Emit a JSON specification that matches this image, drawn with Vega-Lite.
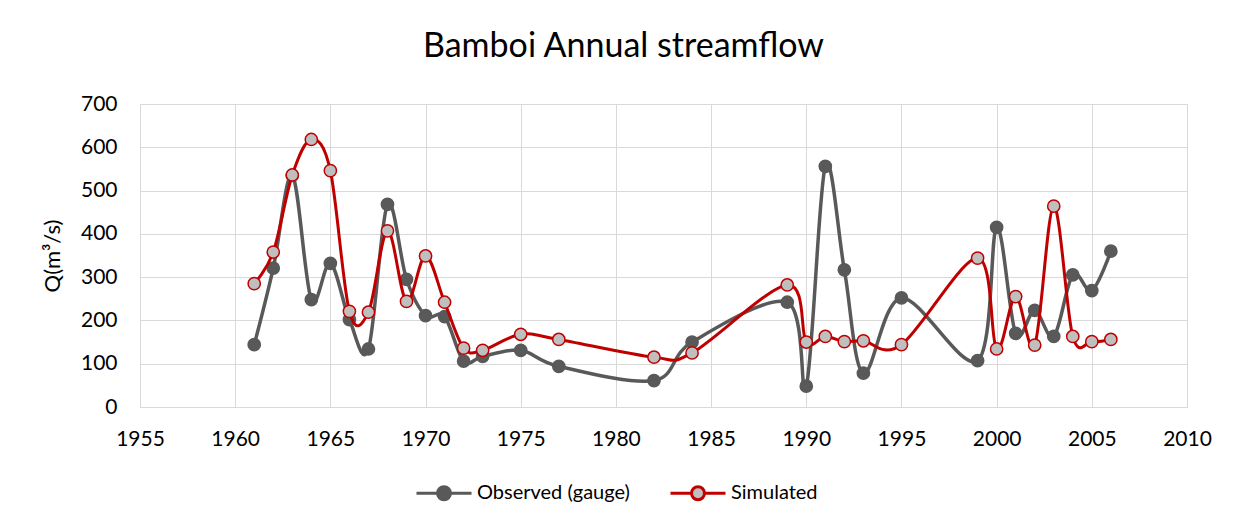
{
  "$schema": "https://vega.github.io/schema/vega-lite/v6.json",
  "autosize": "none",
  "width": 1047,
  "height": 303,
  "padding": {"left": 140, "top": 104, "right": 55, "bottom": 121},
  "background": "white",
  "title": {
    "text": "Bamboi Annual streamflow",
    "font": "Lato",
    "fontSize": 34,
    "fontWeight": "normal",
    "color": "#000000",
    "anchor": "middle",
    "dx": -40,
    "offset": 29
  },
  "config": {
    "view": {"stroke": "#D9D9D9", "strokeWidth": 1},
    "axis": {
      "labelFont": "Lato",
      "labelFontSize": 21,
      "labelColor": "#000000",
      "titleFont": "Lato",
      "titleFontSize": 22,
      "titleFontWeight": "normal",
      "titleColor": "#000000",
      "gridColor": "#D9D9D9",
      "gridWidth": 1,
      "domainColor": "#D9D9D9",
      "ticks": false
    }
  },
  "data": {
    "values": [
      {"year": 1961, "series": "Observed (gauge)", "Q": 144},
      {"year": 1962, "series": "Observed (gauge)", "Q": 321},
      {"year": 1963, "series": "Observed (gauge)", "Q": 535},
      {"year": 1964, "series": "Observed (gauge)", "Q": 248},
      {"year": 1965, "series": "Observed (gauge)", "Q": 332},
      {"year": 1966, "series": "Observed (gauge)", "Q": 202},
      {"year": 1967, "series": "Observed (gauge)", "Q": 134},
      {"year": 1968, "series": "Observed (gauge)", "Q": 468},
      {"year": 1969, "series": "Observed (gauge)", "Q": 295},
      {"year": 1970, "series": "Observed (gauge)", "Q": 211},
      {"year": 1971, "series": "Observed (gauge)", "Q": 209},
      {"year": 1972, "series": "Observed (gauge)", "Q": 106},
      {"year": 1973, "series": "Observed (gauge)", "Q": 117},
      {"year": 1975, "series": "Observed (gauge)", "Q": 131},
      {"year": 1977, "series": "Observed (gauge)", "Q": 94},
      {"year": 1982, "series": "Observed (gauge)", "Q": 61},
      {"year": 1984, "series": "Observed (gauge)", "Q": 150},
      {"year": 1989, "series": "Observed (gauge)", "Q": 242},
      {"year": 1990, "series": "Observed (gauge)", "Q": 48},
      {"year": 1991, "series": "Observed (gauge)", "Q": 556},
      {"year": 1992, "series": "Observed (gauge)", "Q": 317},
      {"year": 1993, "series": "Observed (gauge)", "Q": 78},
      {"year": 1995, "series": "Observed (gauge)", "Q": 252},
      {"year": 1999, "series": "Observed (gauge)", "Q": 107},
      {"year": 2000, "series": "Observed (gauge)", "Q": 415},
      {"year": 2001, "series": "Observed (gauge)", "Q": 170},
      {"year": 2002, "series": "Observed (gauge)", "Q": 223},
      {"year": 2003, "series": "Observed (gauge)", "Q": 163},
      {"year": 2004, "series": "Observed (gauge)", "Q": 305},
      {"year": 2005, "series": "Observed (gauge)", "Q": 269},
      {"year": 2006, "series": "Observed (gauge)", "Q": 360},
      {"year": 1961, "series": "Simulated", "Q": 285},
      {"year": 1962, "series": "Simulated", "Q": 358},
      {"year": 1963, "series": "Simulated", "Q": 536},
      {"year": 1964, "series": "Simulated", "Q": 618},
      {"year": 1965, "series": "Simulated", "Q": 546},
      {"year": 1966, "series": "Simulated", "Q": 221},
      {"year": 1967, "series": "Simulated", "Q": 219},
      {"year": 1968, "series": "Simulated", "Q": 407},
      {"year": 1969, "series": "Simulated", "Q": 244},
      {"year": 1970, "series": "Simulated", "Q": 349},
      {"year": 1971, "series": "Simulated", "Q": 242},
      {"year": 1972, "series": "Simulated", "Q": 136},
      {"year": 1973, "series": "Simulated", "Q": 131},
      {"year": 1975, "series": "Simulated", "Q": 168},
      {"year": 1977, "series": "Simulated", "Q": 156},
      {"year": 1982, "series": "Simulated", "Q": 115},
      {"year": 1984, "series": "Simulated", "Q": 125},
      {"year": 1989, "series": "Simulated", "Q": 282},
      {"year": 1990, "series": "Simulated", "Q": 150},
      {"year": 1991, "series": "Simulated", "Q": 163},
      {"year": 1992, "series": "Simulated", "Q": 151},
      {"year": 1993, "series": "Simulated", "Q": 153},
      {"year": 1995, "series": "Simulated", "Q": 144},
      {"year": 1999, "series": "Simulated", "Q": 344},
      {"year": 2000, "series": "Simulated", "Q": 134},
      {"year": 2001, "series": "Simulated", "Q": 255},
      {"year": 2002, "series": "Simulated", "Q": 143},
      {"year": 2003, "series": "Simulated", "Q": 464},
      {"year": 2004, "series": "Simulated", "Q": 163},
      {"year": 2005, "series": "Simulated", "Q": 151},
      {"year": 2006, "series": "Simulated", "Q": 156}
    ]
  },
  "encoding": {
    "x": {
      "field": "year",
      "type": "quantitative",
      "scale": {"domain": [1955, 2010], "nice": false, "zero": false},
      "axis": {
        "title": null,
        "values": [1955, 1960, 1965, 1970, 1975, 1980, 1985, 1990, 1995, 2000, 2005, 2010],
        "format": "d",
        "labelPadding": 21,
        "labelFlush": false
      }
    },
    "y": {
      "field": "Q",
      "type": "quantitative",
      "scale": {"domain": [0, 700], "nice": false},
      "axis": {
        "title": "Q(m³/s)",
        "values": [0, 100, 200, 300, 400, 500, 600, 700],
        "labelPadding": 23,
        "titlePadding": 16,
        "domain": false
      }
    }
  },
  "layer": [
    {
      "transform": [{"filter": "datum.series === 'Observed (gauge)'"}],
      "mark": {"type": "line", "interpolate": "cardinal", "tension": 0, "strokeWidth": 3.5},
      "encoding": {
        "stroke": {"field": "series", "type": "nominal",
          "scale": {"domain": ["Observed (gauge)", "Simulated"], "range": ["#595959", "#C00000"]},
          "legend": {
            "orient": "none", "legendX": 275, "legendY": 360, "direction": "horizontal",
            "title": null, "padding": 0,
            "symbolType": "M-1,0H-0.236M0.236,0H1M0.236,0A0.236,0.236,0,1,1,-0.236,0A0.236,0.236,0,1,1,0.236,0Z",
            "symbolSize": 3025, "symbolStrokeWidth": 3,
            "labelFont": "Lato", "labelFontSize": 20, "labelColor": "#000000",
            "labelOffset": 4, "columnPadding": 34
          }}
      }
    },
    {
      "transform": [{"filter": "datum.series === 'Observed (gauge)'"}],
      "mark": {"type": "point", "filled": true, "size": 150, "opacity": 1, "strokeWidth": 1.5},
      "encoding": {
        "stroke": {"field": "series", "type": "nominal"},
        "fill": {"field": "series", "type": "nominal",
          "scale": {"domain": ["Observed (gauge)", "Simulated"], "range": ["#595959", "#BFBFBF"]}}
      }
    },
    {
      "transform": [{"filter": "datum.series === 'Simulated'"}],
      "mark": {"type": "line", "interpolate": "cardinal", "tension": 0, "strokeWidth": 3},
      "encoding": {
        "stroke": {"field": "series", "type": "nominal"}
      }
    },
    {
      "transform": [{"filter": "datum.series === 'Simulated'"}],
      "mark": {"type": "point", "filled": true, "size": 150, "opacity": 1, "strokeWidth": 1.5},
      "encoding": {
        "stroke": {"field": "series", "type": "nominal"},
        "fill": {"field": "series", "type": "nominal"}
      }
    }
  ]
}
